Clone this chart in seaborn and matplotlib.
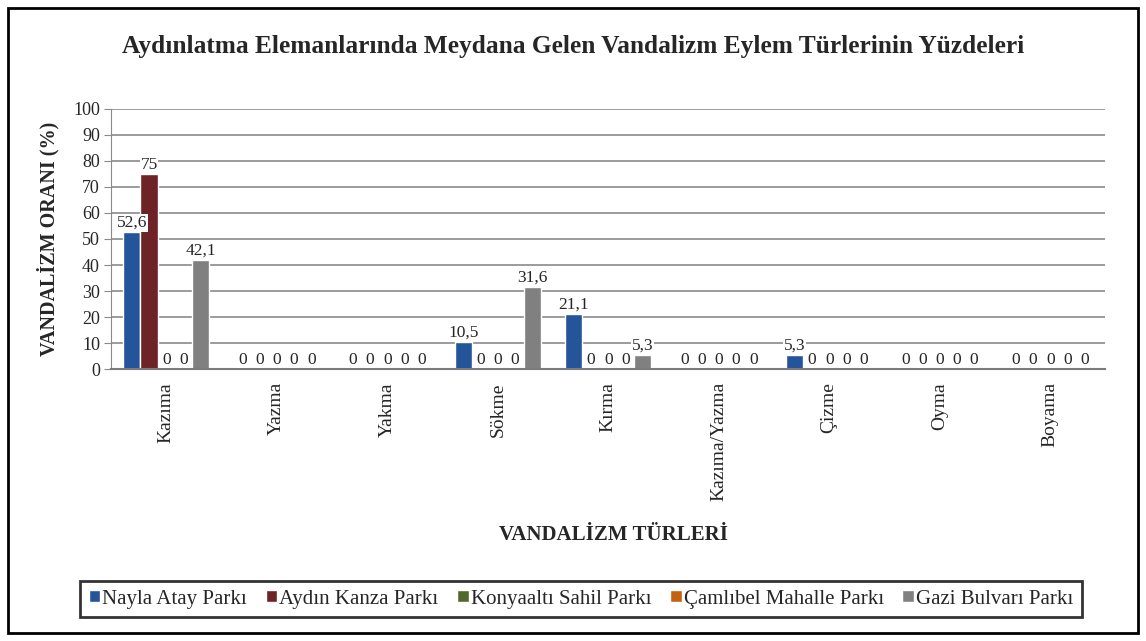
import numpy as np
import pandas as pd
import matplotlib
matplotlib.use("Agg")
import matplotlib.pyplot as plt
import seaborn as sns
from matplotlib.patches import Rectangle

# chart data
categories = ["Kazıma", "Yazma", "Yakma", "Sökme", "Kırma",
              "Kazıma/Yazma", "Çizme", "Oyma", "Boyama"]
parks = ["Nayla Atay Parkı", "Aydın Kanza Parkı", "Konyaaltı Sahil Parkı",
         "Çamlıbel Mahalle Parkı", "Gazi Bulvarı Parkı"]
nayla = [52.6, 0, 0, 10.5, 21.1, 0, 5.3, 0, 0]
aydin = [75, 0, 0, 0, 0, 0, 0, 0, 0]
konyaalti = [0, 0, 0, 0, 0, 0, 0, 0, 0]
camlibel = [0, 0, 0, 0, 0, 0, 0, 0, 0]
gazi = [42.1, 0, 0, 31.6, 5.3, 0, 0, 0, 0]
colors = ["#24549a", "#6e2326", "#50682a", "#c4620f", "#808080"]

series = [nayla, aydin, konyaalti, camlibel, gazi]
df = pd.DataFrame({
    "Tür": categories * len(parks),
    "Park": [p for p in parks for _ in categories],
    "Oran": [v for s in series for v in s],
})

sns.set_style("white")
plt.rcParams["font.family"] = ["Liberation Serif", "DejaVu Serif"]

fig = plt.figure(figsize=(11.46, 6.41), dpi=100)
ax = fig.add_axes([0.0969, 0.4243, 0.8677, 0.4057])

sns.barplot(data=df, x="Tür", y="Oran", hue="Park", order=categories,
            hue_order=parks, palette=colors, width=0.78, gap=0,
            saturation=1, ax=ax, legend=True)

# value labels, decimal comma
for cont in ax.containers:
    labs = [f"{b.get_height():g}".replace(".", ",") for b in cont]
    ax.bar_label(cont, labels=labs, padding=1, fontsize=12.5,
                 bbox=dict(facecolor="white", edgecolor="none", pad=0.5))

ax.set_ylim(0, 100)
ax.set_yticks(np.arange(0, 101, 10))
ax.yaxis.grid(True, color="#8a8a8a", linewidth=1.2)
ax.set_axisbelow(True)
for s in ["top", "right"]:
    ax.spines[s].set_visible(False)
ax.spines["left"].set_color("#8a8a8a")
ax.spines["bottom"].set_color("#7a7a7a")
ax.spines["bottom"].set_linewidth(1.5)
ax.tick_params(axis="y", left=True, length=5, color="#8a8a8a",
               labelsize=13, pad=3)
ax.tick_params(axis="x", bottom=False, labelsize=14, pad=6)
plt.setp(ax.get_xticklabels(), rotation=90, va="top", ha="center")
ax.set_xlabel("")
ax.set_ylabel("VANDALİZM ORANI (%)", fontsize=14.5, fontweight="bold")
ax.yaxis.set_label_coords(-0.052, 0.5)

fig.text(0.5, 0.927,
         "Aydınlatma Elemanlarında Meydana Gelen Vandalizm Eylem Türlerinin Yüzdeleri",
         ha="center", va="center", fontsize=18.3, fontweight="bold")
fig.text(0.535, 0.165, "VANDALİZM TÜRLERİ", ha="center", va="center",
         fontsize=15, fontweight="bold")

# legend at bottom in a black box
handles, labels = ax.get_legend_handles_labels()
ax.get_legend().remove()
leg = fig.legend(handles, labels, loc="center", bbox_to_anchor=(0.507, 0.0655),
                 ncol=5, frameon=True, fontsize=15, handlelength=0.55,
                 handleheight=0.55, handletextpad=0.1, columnspacing=0.9,
                 borderpad=0.4, borderaxespad=0, fancybox=False)
leg.get_frame().set_edgecolor("black")
leg.get_frame().set_linewidth(2)

# outer frame
fig.patches.append(Rectangle((0.007, 0.012), 0.986, 0.976,
                             transform=fig.transFigure, fill=False,
                             edgecolor="black", linewidth=2))

fig.savefig("out.png", dpi=100)
